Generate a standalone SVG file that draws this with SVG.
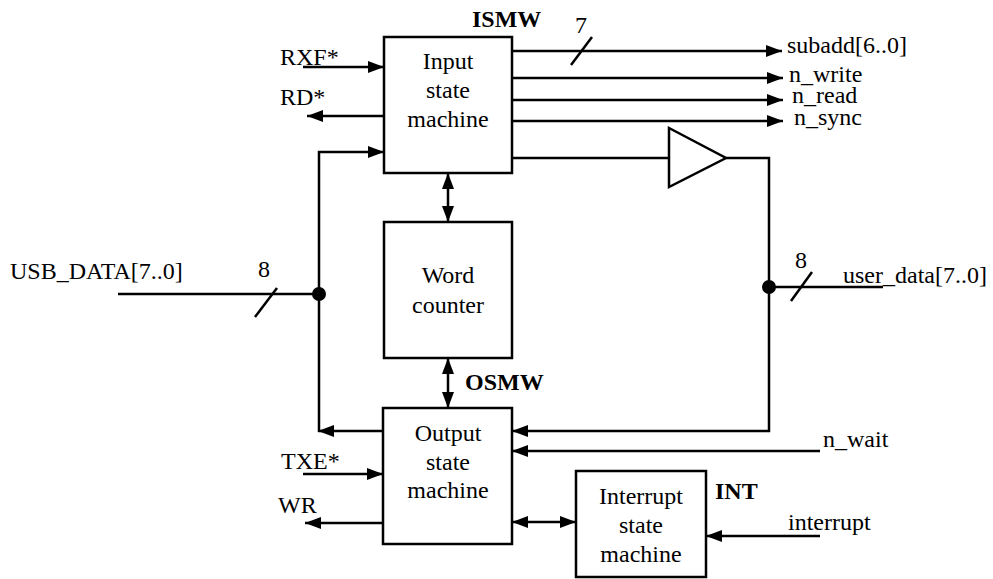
<svg xmlns="http://www.w3.org/2000/svg" width="993" height="579" viewBox="0 0 993 579" font-family="'Liberation Serif', Tinos, 'Times New Roman', 'DejaVu Serif', serif">
  <style>
    text { font-size: 24px; fill: #000; }
    .c { text-anchor: middle; }
    .b { font-weight: bold; }
    .box { fill: #fff; stroke: #000; stroke-width: 2.5; }
    .w { fill: none; stroke: #000; stroke-width: 2.5; }
    .a { marker-end: url(#arr); }
    .aa { marker-start: url(#arr); marker-end: url(#arr); }
  </style>
  <defs>
    <marker id="arr" markerUnits="userSpaceOnUse" markerWidth="17" markerHeight="13" refX="16" refY="6" orient="auto-start-reverse" viewBox="0 0 17 12">
      <path d="M0,0 L16,6 L0,12 z" fill="#000"/>
    </marker>
  </defs>

  <rect width="993" height="579" fill="#fff"/>

  <!-- wires and buses -->
  <g id="connectors">
    <!-- ISMW side signals -->
    <path class="w a" d="M303,67 L384,67"/>
    <path class="w a" d="M384,116 L307,116"/>
    <path class="w a" d="M512,51 L782,51"/>
    <path class="w a" d="M512,78 L783,78"/>
    <path class="w a" d="M512,100 L783,100"/>
    <path class="w a" d="M512,121 L783,121"/>
    <!-- bus width marks -->
    <path class="w" d="M571,65 L592,37"/>
    <path class="w" d="M255,317 L277,288"/>
    <path class="w" d="M791,301 L812,272"/>
    <!-- USB data bus -->
    <path class="w" d="M118,294 L319,294"/>
    <path class="w a" d="M319,294 L319,152 L384,152"/>
    <path class="w" d="M319,294 L319,432"/>
    <path class="w a" d="M383,431 L318,431"/>
    <circle cx="319" cy="294" r="7" fill="#000"/>
    <!-- user data bus through buffer -->
    <path class="w" d="M512,158 L669,158"/>
    <polygon points="669,128 669,187 726,158" fill="#fff" stroke="#000" stroke-width="2.5"/>
    <path class="w a" d="M726,158 L769,158 L769,431 L512,431"/>
    <path class="w" d="M769,287 L883,287"/>
    <circle cx="769" cy="287" r="7" fill="#000"/>
    <!-- state machine links -->
    <path class="w aa" d="M448,173 L448,222"/>
    <path class="w aa" d="M448,358 L448,408"/>
    <path class="w aa" d="M512,522 L576,522"/>
    <!-- OSMW side signals -->
    <path class="w a" d="M303,474 L383,474"/>
    <path class="w a" d="M383,523 L305,523"/>
    <path class="w a" d="M820,451 L512,451"/>
    <path class="w a" d="M820,536 L706,536"/>
  </g>

  <g id="ismw">
    <rect class="box" x="384" y="37" width="128" height="136"/>
    <text class="c" x="448" y="69">Input</text>
    <text class="c" x="448" y="98">state</text>
    <text class="c" x="448" y="127">machine</text>
    <text class="b" x="472" y="27">ISMW</text>
  </g>

  <g id="word-counter">
    <rect class="box" x="384" y="222" width="128" height="136"/>
    <text class="c" x="448" y="283">Word</text>
    <text class="c" x="448" y="313">counter</text>
  </g>

  <g id="osmw">
    <rect class="box" x="383" y="408" width="129" height="136"/>
    <text class="c" x="448" y="441">Output</text>
    <text class="c" x="448" y="470">state</text>
    <text class="c" x="448" y="498">machine</text>
    <text class="b" x="465" y="390">OSMW</text>
  </g>

  <g id="int">
    <rect class="box" x="576" y="471" width="130" height="106"/>
    <text class="c" x="641" y="504">Interrupt</text>
    <text class="c" x="641" y="533">state</text>
    <text class="c" x="641" y="562">machine</text>
    <text class="b" x="715" y="499">INT</text>
  </g>

  <g id="labels">
    <text x="280" y="65">RXF*</text>
    <text x="280" y="105">RD*</text>
    <text x="10" y="279">USB_DATA[7..0]</text>
    <text x="258" y="277">8</text>
    <text x="575" y="33">7</text>
    <text x="787" y="53">subadd[6..0]</text>
    <text x="789" y="82">n_write</text>
    <text x="792" y="103">n_read</text>
    <text x="794" y="125">n_sync</text>
    <text x="795" y="268">8</text>
    <text x="843" y="283">user_data[7..0]</text>
    <text x="281" y="469">TXE*</text>
    <text x="278" y="513">WR</text>
    <text x="823" y="447">n_wait</text>
    <text x="788" y="530">interrupt</text>
  </g>
</svg>
